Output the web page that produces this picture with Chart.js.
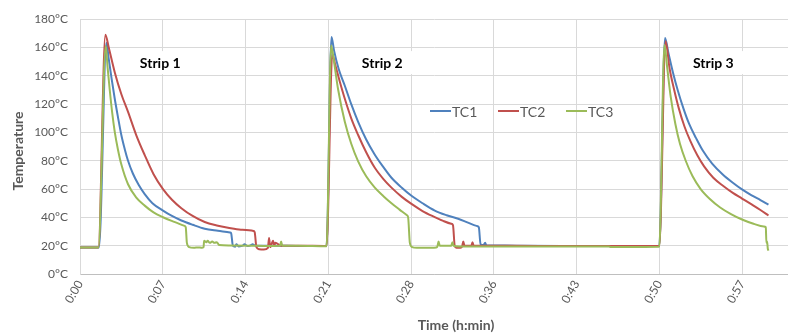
<!DOCTYPE html>
<html>
<head>
<meta charset="utf-8">
<script src="https://cdn.jsdelivr.net/npm/chart.js@4"></script>
<style>
  body { margin: 0; background: #fff; }
</style>
</head>
<body>
<canvas id="myChart" width="788" height="333"></canvas>
<script>
// time in minutes, temperature in °C
const tc1Min = [0, 1.65, 2.3, 2.5, 2.75, 3.02, 3.3, 3.6, 3.9, 4.18, 4.6, 5.1, 5.63, 6.3, 7.22, 8, 8.82, 9.8, 10.85, 12,
  13.05, 13.15, 13.3, 13.5, 13.6, 13.8, 14.2, 14.3, 14.6, 14.9, 15.0, 15.3, 17, 19, 21.45, 21.88, 22.1, 22.5, 23.04, 23.6,
  24.2, 24.9, 25.65, 26.4, 27.1, 28, 28.84, 29.8, 30.87, 31.9, 32.9, 33.7, 34.5, 34.7, 34.85, 35.1, 35.25, 35.35, 35.6, 38,
  42, 46, 50.4, 50.9, 51.2, 51.6, 52, 52.5, 53, 53.6, 54.2, 55, 55.9, 56.8, 57.6, 58.4, 59.2, 59.9];
const tc1Temp = [18.8, 18.8, 163.3, 152, 138, 124, 111, 98, 88, 80, 71, 63, 56.4, 50, 44.8, 41, 37.8, 34.8, 32, 30.5,
  29.3, 28.8, 20, 19.3, 21, 19.5, 20.2, 21, 19.7, 20.5, 21, 20, 20, 19.8, 19.8, 167.5, 158, 145, 133, 120,
  107.5, 95, 84.3, 75.5, 68, 61, 55.3, 50, 44.8, 41.5, 39, 36.5, 34, 33, 21, 20.5, 22, 20.3, 20.2, 20,
  19.8, 19.8, 19.7, 166.8, 156, 142, 130, 117, 106, 96, 87, 78, 70.5, 64.5, 59.8, 55.8, 52.2, 49];

const tc2Min = [0, 1.6, 2.21, 2.5, 3.02, 3.6, 4.18, 4.9, 5.63, 6.4, 7.22, 8, 8.82, 9.8, 10.85, 11.9, 12.88, 14, 15.1, 15.2,
  15.35, 15.6, 16, 16.35, 16.45, 16.55, 16.8, 16.9, 17.0, 17.5, 19, 21.45, 21.95, 22.2, 22.6, 23.04, 23.6, 24.2, 24.9, 25.65,
  26.4, 27.1, 28, 28.84, 29.8, 30.87, 31.6, 32.3, 32.45, 32.6, 32.75, 33.1, 33.25, 33.35, 33.45, 34.05, 34.15, 34.25, 35, 40,
  46, 50.4, 50.95, 51.3, 51.7, 52.1, 52.6, 53.1, 53.7, 54.3, 55.1, 56, 56.8, 57.6, 58.4, 59.2, 59.9];
const tc2Temp = [18.8, 18.8, 169, 160, 142.6, 127, 114.5, 98, 84, 70.5, 60, 52.5, 46.5, 41, 36.7, 34.3, 32.7, 31.3, 30.4, 29.5,
  19, 17.5, 17.3, 18.5, 25.5, 19, 23.5, 20, 22, 20, 20, 19.8, 155.1, 148, 136, 123.8, 110, 98.2, 86, 75,
  67, 61, 54.5, 49.5, 44.5, 40.2, 37.5, 35.5, 34.5, 20, 18.5, 18.5, 19.5, 23, 20, 20, 22.5, 20, 20, 19.8,
  19.8, 19.8, 164.4, 145, 130, 117, 104, 94, 84, 76, 68, 62, 57.3, 53.3, 49.3, 45.2, 41.3];

const tc3Min = [0, 1.6, 2.24, 2.4, 2.58, 2.8, 3.02, 3.3, 3.6, 4.18, 4.9, 5.63, 6.4, 7.22, 8.2, 9.1, 9.2, 9.3, 9.5, 9.9,
  10.3, 10.6, 10.75, 10.8, 11.0, 11.1, 11.3, 11.5, 11.7, 11.9, 12.1, 13, 15, 16, 17.4, 17.5, 17.6, 19, 21.45, 21.85,
  22.1, 22.45, 23.04, 23.6, 24.2, 24.9, 25.65, 26.4, 27.1, 27.8, 28.45, 28.55, 28.7, 28.9, 29.3, 30.5, 31.0, 31.1, 31.2, 31.3,
  32.3, 32.4, 32.5, 33, 40, 46, 46.2, 50.4, 50.85, 51.1, 51.4, 51.8, 52.2, 52.7, 53.3, 54, 54.8, 55.7, 56.6, 57.6,
  58.6, 59.5, 59.67, 59.72, 59.78, 59.84, 59.9];
const tc3Temp = [18.8, 18.8, 161, 146, 130.7, 114, 100.6, 88, 77.3, 63.4, 54, 48.3, 43.5, 40.1, 36.8, 34, 33, 22, 19, 18.5,
  18.8, 18.5, 19, 23.5, 22.5, 23.5, 22, 23, 22, 22.5, 20.5, 20.2, 20, 19.8, 20, 23, 20, 20, 19.6, 161.4,
  150, 130.7, 107.5, 92, 79.6, 69, 61, 55, 50, 45.5, 41.5, 40, 22, 19, 18.5, 18.5, 18.7, 19.5, 23, 20,
  20, 22.5, 20, 19.5, 19.5, 19.5, 19, 19.2, 162, 145, 125, 106, 92, 80, 69, 60, 53, 47, 42.5, 38.5,
  35.5, 33.5, 33, 22, 23, 18, 16.5];

const seriesNames = ['TC1', 'TC2', 'TC3'];
const stripNames = ['Strip 1', 'Strip 2', 'Strip 3'];

const textGray = '#595959';
const colors = ['#4F81BD', '#C0504D', '#9BBB59'];

function toPoints(mins, temps) {
  return mins.map((m, i) => ({ x: m, y: temps[i] }));
}

function minLabel(v) {
  const m = Math.floor(v + 1e-6);
  return '0:' + (m < 10 ? '0' + m : m);
}

// strip labels (white boxes) placed in axis units
const stripLabelPlugin = {
  id: 'stripLabels',
  afterDatasetsDraw(chart) {
    const ctx = chart.ctx;
    const xs = chart.scales.x, ys = chart.scales.y;
    const spots = [[6.98, 149], [26.3, 149], [55.1, 149]];
    ctx.save();
    ctx.font = 'bold 14px Lato';
    ctx.textAlign = 'center';
    ctx.textBaseline = 'middle';
    stripNames.forEach((name, i) => {
      const px = xs.getPixelForValue(spots[i][0]);
      const py = ys.getPixelForValue(spots[i][1]);
      const w = ctx.measureText(name).width + 20;
      ctx.fillStyle = '#fff';
      ctx.fillRect(px - w / 2, py - 12, w, 23);
      ctx.fillStyle = '#000';
      ctx.fillText(name, px, py);
    });
    ctx.restore();
  }
};

const legendPlugin = {
  id: 'innerLegend',
  afterDatasetsDraw(chart) {
    const ctx = chart.ctx;
    const starts = [430, 498, 566];
    const y = 111;
    ctx.save();
    ctx.font = '14px Lato';
    ctx.textBaseline = 'middle';
    ctx.textAlign = 'left';
    seriesNames.forEach((name, i) => {
      ctx.strokeStyle = colors[i];
      ctx.lineWidth = 2;
      ctx.beginPath();
      ctx.moveTo(starts[i], y);
      ctx.lineTo(starts[i] + 21, y);
      ctx.stroke();
      ctx.fillStyle = textGray;
      ctx.fillText(name, starts[i] + 22, y + 1);
    });
    ctx.restore();
  }
};

const axisTitlePlugin = {
  id: 'axisTitles',
  afterDraw(chart) {
    const ctx = chart.ctx;
    ctx.save();
    ctx.font = 'bold 14px Lato';
    ctx.fillStyle = textGray;
    ctx.textAlign = 'center';
    ctx.textBaseline = 'middle';
    ctx.fillText('Time (h:min)', 456, 325);
    ctx.translate(18, 151);
    ctx.rotate(-Math.PI / 2);
    ctx.fillText('Temperature', 0, 0);
    ctx.restore();
  }
};

const chartLayout = document.getElementById('myChart');

const myChart = new Chart(chartLayout, {
  type: 'line',
  data: {
    datasets: [
      { label: seriesNames[0], data: toPoints(tc1Min, tc1Temp), borderColor: colors[0], order: 3 },
      { label: seriesNames[1], data: toPoints(tc2Min, tc2Temp), borderColor: colors[1], order: 2 },
      { label: seriesNames[2], data: toPoints(tc3Min, tc3Temp), borderColor: colors[2], order: 1 }
    ]
  },
  options: {
    responsive: false,
    animation: false,
    devicePixelRatio: 1,
    layout: { padding: { top: 16, right: 0, left: 0, bottom: 0 } },
    elements: {
      point: { radius: 0 },
      line: { borderWidth: 2, cubicInterpolationMode: 'monotone', fill: false }
    },
    plugins: {
      legend: { display: false },
      tooltip: { enabled: false }
    },
    scales: {
      x: {
        type: 'linear',
        min: 0,
        max: 61.6,
        afterFit: (s) => { s.height = 59; s.paddingLeft = 0; s.paddingRight = 0; },
        ticks: {
          stepSize: 7.2,
          includeBounds: false,
          minRotation: 60,
          maxRotation: 60,
          padding: 4,
          color: textGray,
          font: { family: 'Lato', size: 12 },
          callback: (v) => minLabel(v)
        },
        grid: { color: '#d9d9d9', drawTicks: false },
        border: { color: '#bfbfbf' }
      },
      y: {
        min: 0,
        max: 180,
        afterFit: (s) => { s.width = 80; },
        ticks: {
          stepSize: 20,
          padding: 12,
          color: textGray,
          font: { family: 'Lato', size: 12 },
          callback: (v) => v + '°C'
        },
        grid: { color: '#d9d9d9', drawTicks: false },
        border: { color: '#d9d9d9' }
      }
    }
  },
  plugins: [stripLabelPlugin, legendPlugin, axisTitlePlugin]
});
</script>
</body>
</html>
